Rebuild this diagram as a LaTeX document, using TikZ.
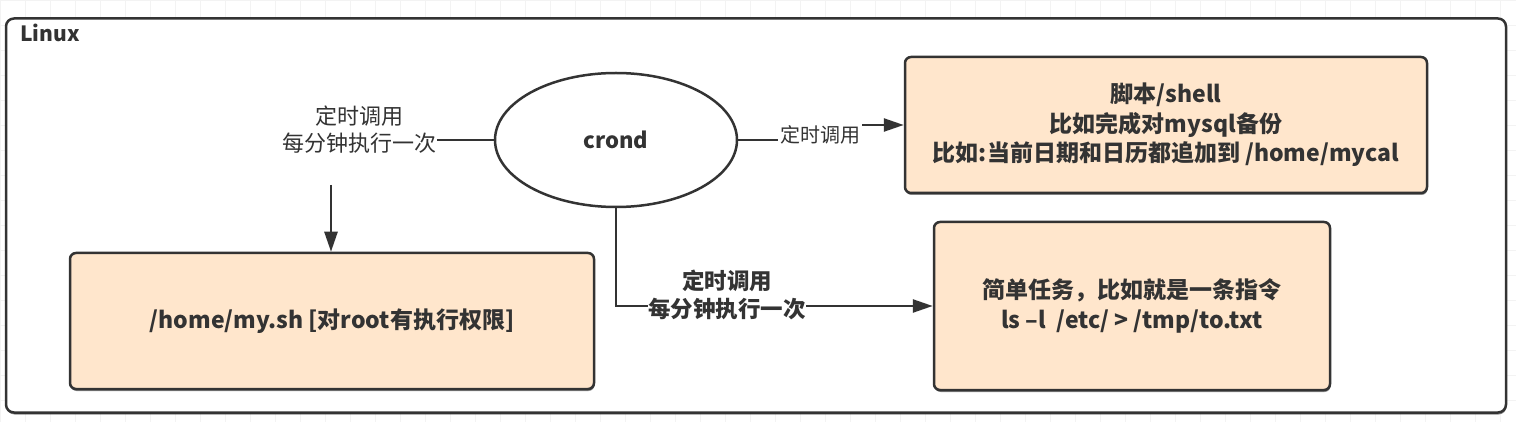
\documentclass[tikz,border=0pt]{standalone}
\usepackage{fontspec}
\setmainfont{Noto Sans CJK SC}
\usetikzlibrary{arrows.meta,shapes.geometric,shadows}
\definecolor{ln}{HTML}{333333}
\definecolor{peach}{HTML}{FFE6CC}
\definecolor{gridc}{HTML}{F3F3F3}
\begin{document}
\begin{tikzpicture}[x=1pt,y=-1pt,
  shd/.style={drop shadow={shadow xshift=0.5pt,shadow yshift=-2pt,fill=black,opacity=0.45}},
  box/.style={draw=ln,fill=peach,line width=2.5pt,rounded corners=6pt,align=center,text=ln,
    font=\fontsize{23}{29.5}\selectfont\bfseries,inner sep=0pt,shd},
  lbl/.style={align=center,text=ln,font=\fontsize{22}{27}\selectfont,inner sep=1pt},
  conn/.style={draw=ln,line width=2.5pt},
  tip/.style={-{Triangle[length=20pt,width=13pt]}}]
\useasboundingbox (0,0) rectangle (1516,422);
\fill[white] (0,0) rectangle (1516,422);
\draw[gridc,line width=0.6pt,step=25pt] (0,0) grid (1516,422);
% outer Linux frame
\node[draw=ln,line width=2.5pt,rounded corners=8pt,fill=white,minimum width=1500pt,minimum height=394pt,shd] (linux) at (756,215.5) {};
\node[anchor=west,text=ln,font=\fontsize{21}{25}\selectfont\bfseries,inner sep=0pt] (linuxlbl) at (20,33) {Linux};
% boxes
\node[box,minimum width=524pt,minimum height=136pt] (mysh) at (332,321) {/home/my.sh [对root有执行权限]};
\node[box,minimum width=522pt,minimum height=136pt] (shell) at (1166,125) {脚本/shell\\比如完成对mysql备份\\比如:当前日期和日历都追加到 /home/mycal};
\node[box,minimum width=396pt,minimum height=168pt] (task) at (1132,306) {简单任务，比如就是一条指令\\ls –l\ \ /etc/ > /tmp/to.txt};
% crond
\node[ellipse,draw=ln,line width=2.5pt,fill=white,minimum width=242pt,minimum height=134pt,inner sep=0pt,text=ln,font=\fontsize{22}{26}\selectfont\bfseries] (crond) at (616,140) {crond};
% labels
\node[lbl] (lblL) at (359,130) {定时调用\\每分钟执行一次};
\node[lbl,font=\fontsize{20}{24}\selectfont,inner sep=2pt] (lblR) at (820,135) {定时调用};
% connectors
\draw[conn] (crond.west) -- (crond.west -| lblL.east);
\coordinate (a1) at (331,185);
\draw[conn,tip] (a1) -- (a1 |- mysh.north);
\draw[conn] (crond.east) -- (crond.east -| lblR.west);
\draw[conn,tip] (lblR.east |- shell.west) -- (shell.west);
\draw[conn,tip] (crond.south) |- (task.west);
\node[lbl,fill=white,inner sep=0pt,font=\fontsize{22.5}{28}\selectfont\bfseries] (lblB) at (727,295) {定时调用\\每分钟执行一次};
\end{tikzpicture}
\end{document}
